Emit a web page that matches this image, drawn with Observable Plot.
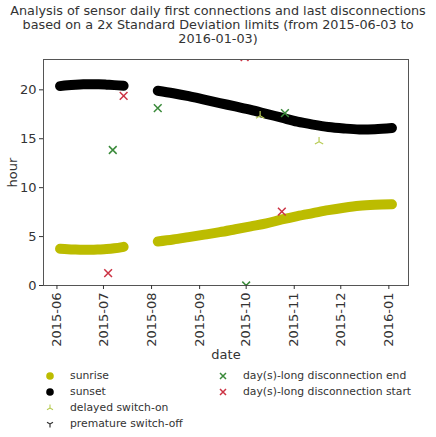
<!DOCTYPE html>
<html><head><meta charset="utf-8">
<script src="https://cdn.jsdelivr.net/npm/d3@7"></script>
<script src="https://cdn.jsdelivr.net/npm/@observablehq/plot@0.6"></script>
<style>
body{margin:0;background:#fff;font-family:"DejaVu Sans",sans-serif;color:#333;}
#title{width:436px;text-align:center;font-size:12.8px;line-height:14px;padding-top:4px;height:43px;white-space:nowrap;}
#legend{position:relative;width:436px;height:75px;font-size:10.8px;}
#legend .item{position:absolute;display:flex;align-items:center;white-space:nowrap;}
</style></head><body>
<div id="title">Analysis of sensor daily first connections and last disconnections<br>based on a 2x Standard Deviation limits (from 2015-06-03 to<br>2016-01-03)</div>
<div id="chart"></div>
<div id="legend"></div>
<script>
// sunrise / sunset estimated daily values (two observed periods)
const seg1Dates = ["2015-06-03","2015-06-08","2015-06-13","2015-06-18","2015-06-23","2015-06-28","2015-07-03","2015-07-08","2015-07-14"];
const sunrise1 = [3.75,3.70,3.67,3.65,3.65,3.68,3.72,3.80,3.95];
const sunset1  = [20.38,20.47,20.53,20.57,20.58,20.57,20.53,20.48,20.42];
const seg2Dates = ["2015-08-05","2015-08-15","2015-08-25","2015-09-04","2015-09-14","2015-09-24","2015-10-04","2015-10-14","2015-10-24","2015-11-03","2015-11-13","2015-11-23","2015-12-03","2015-12-13","2015-12-23","2016-01-03"];
const sunrise2 = [4.50,4.70,4.95,5.20,5.45,5.75,6.05,6.35,6.75,7.10,7.40,7.70,7.95,8.15,8.25,8.30];
const sunset2  = [19.90,19.65,19.35,19.00,18.65,18.30,17.95,17.55,17.15,16.75,16.45,16.20,16.05,15.95,15.98,16.10];

// events
const delayedOnDates = ["2015-10-10","2015-11-17"];
const delayedOnHours = [17.35,14.7];
const prematureOffDates = [];
const prematureOffHours = [];
const discEndDates = ["2015-07-07","2015-08-05","2015-10-01","2015-10-26"];
const discEndHours = [13.85,18.13,0.0,17.62];
const discStartDates = ["2015-07-04","2015-07-14","2015-09-30","2015-10-24"];
const discStartHours = [1.26,19.39,23.35,7.55];

const xTicks = ["2015-06-01","2015-07-01","2015-08-01","2015-09-01","2015-10-01","2015-11-01","2015-12-01","2016-01-01"];
const yTicks = [0,5,10,15,20];

const P = d3.utcParse("%Y-%m-%d");
const mk = (dates, vals, seg) => dates.map((d,i)=>({date:P(d), hour:vals[i], seg}));
const sunriseData = [...mk(seg1Dates,sunrise1,1), ...mk(seg2Dates,sunrise2,2)];
const sunsetData = [...mk(seg1Dates,sunset1,1), ...mk(seg2Dates,sunset2,2)];
const delayed = mk(delayedOnDates, delayedOnHours);
const premature = mk(prematureOffDates, prematureOffHours);
const dEnd = mk(discEndDates, discEndHours);
const dStart = mk(discStartDates, discStartHours);

const triUp = {draw(ctx, size){const r=Math.sqrt(size)*0.9; ctx.moveTo(0,0);ctx.lineTo(0,-r);ctx.moveTo(0,0);ctx.lineTo(-r*0.866,r*0.5);ctx.moveTo(0,0);ctx.lineTo(r*0.866,r*0.5);}};
const triDown = {draw(ctx, size){const r=Math.sqrt(size)*0.9; ctx.moveTo(0,0);ctx.lineTo(0,r);ctx.moveTo(0,0);ctx.lineTo(-r*0.866,-r*0.5);ctx.moveTo(0,0);ctx.lineTo(r*0.866,-r*0.5);}};

const C = {sunrise:"#bcbc00", sunset:"#000", delayed:"#b8cc55", premature:"#333", end:"#3a8a3a", start:"#cc3344"};

const chart = Plot.plot({
  width:436, height:315,
  marginTop:12, marginBottom:77, marginLeft:43, marginRight:28,
  style:{fontFamily:"DejaVu Sans, sans-serif", fontSize:"12.5px", color:"#333", background:"#fff"},
  x:{type:"utc", domain:[new Date(Date.UTC(2015,4,23,8)), new Date(Date.UTC(2016,0,13,16))]},
  y:{domain:[0,23.1]},
  marks:[
    Plot.line(sunriseData,{x:"date",y:"hour",z:"seg",stroke:C.sunrise,strokeWidth:10,strokeLinecap:"round",curve:"catmull-rom"}),
    Plot.line(sunsetData,{x:"date",y:"hour",z:"seg",stroke:C.sunset,strokeWidth:10,strokeLinecap:"round",curve:"catmull-rom"}),
    Plot.dot(delayed,{x:"date",y:"hour",symbol:triUp,r:3,fill:"none",stroke:C.delayed,strokeWidth:1.2}),
    Plot.dot(premature,{x:"date",y:"hour",symbol:triDown,r:3,fill:"none",stroke:C.premature,strokeWidth:1.2}),
    Plot.dot(dEnd,{x:"date",y:"hour",symbol:"times",r:3.6,stroke:C.end,strokeWidth:1.5,clip:true}),
    Plot.dot(dStart,{x:"date",y:"hour",symbol:"times",r:3.6,stroke:C.start,strokeWidth:1.5,clip:true}),
    Plot.frame({stroke:"#555"}),
    Plot.axisX({ticks:xTicks.map(P), tickFormat:d3.utcFormat("%Y-%m"), tickRotate:-90, tickSize:4, tickPadding:3, fontSize:13, label:"date", labelAnchor:"center", labelOffset:73, labelArrow:false}),
    Plot.axisY({ticks:yTicks, tickSize:4, tickPadding:3, fontSize:13, label:"hour", labelAnchor:"center", labelOffset:36, labelArrow:false})
  ]
});
document.getElementById("chart").appendChild(chart);

// legend
const leg = document.getElementById("legend");
const items = [
  {label:"sunrise", x:44, y:7, m:`<circle cx="6" cy="6" r="3.8" fill="${C.sunrise}"/>`},
  {label:"sunset", x:44, y:23, m:`<circle cx="6" cy="6" r="3.8" fill="#000"/>`},
  {label:"delayed switch-on", x:44, y:39, m:`<path d="M6,6V2.5M6,6L3,7.7M6,6L9,7.7" stroke="${C.delayed}" fill="none" stroke-width="1.1"/>`},
  {label:"premature switch-off", x:44, y:55, m:`<path d="M6,6V9.5M6,6L3,4.3M6,6L9,4.3" stroke="${C.premature}" fill="none" stroke-width="1.2"/>`},
  {label:"day(s)-long disconnection end", x:217, y:7, m:`<path d="M3,3L9,9M9,3L3,9" stroke="${C.end}" stroke-width="1.5"/>`},
  {label:"day(s)-long disconnection start", x:217, y:23, m:`<path d="M3,3L9,9M9,3L3,9" stroke="${C.start}" stroke-width="1.5"/>`}
];
for (const it of items){
  const d=document.createElement("div");
  d.className="item"; d.style.left=it.x+"px"; d.style.top=it.y+"px";
  d.innerHTML=`<svg width="12" height="12">${it.m}</svg><span style="margin-left:14px">${it.label}</span>`;
  leg.appendChild(d);
}
</script>
</body></html>
